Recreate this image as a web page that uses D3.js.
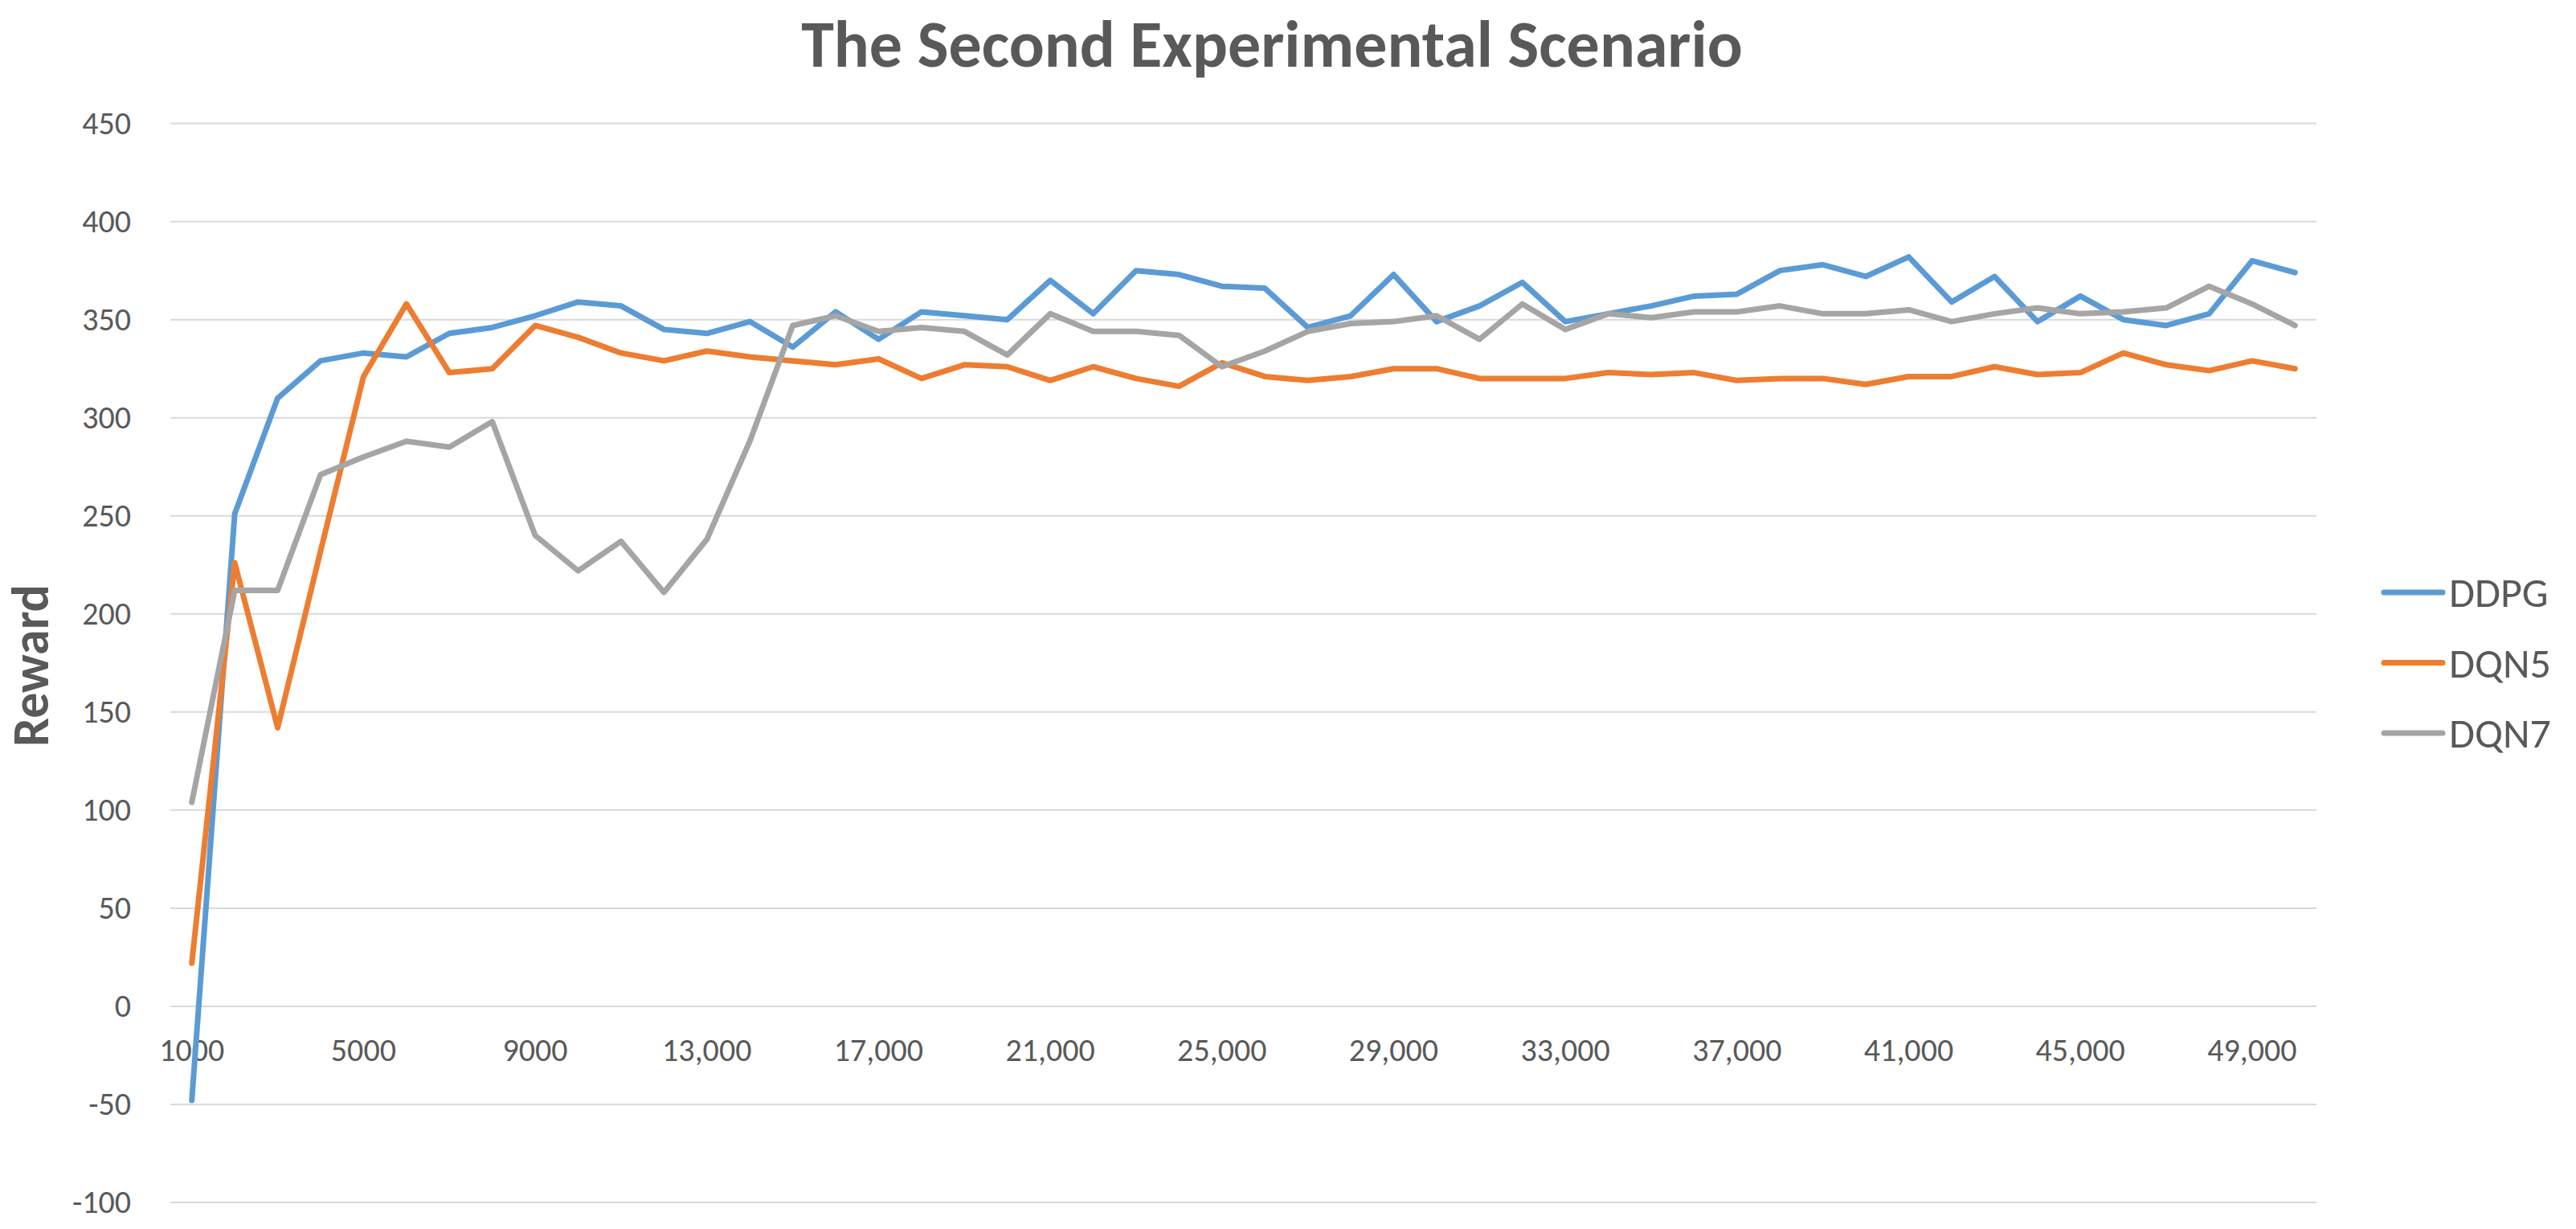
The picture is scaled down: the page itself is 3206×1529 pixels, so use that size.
<!DOCTYPE html>
<html>
<head>
<meta charset="utf-8">
<script src="https://cdn.jsdelivr.net/npm/d3@7"></script>
<style>
body { margin: 0; background: #fff; }
text { font-family: "Carlito", "Lato", "Open Sans", sans-serif; fill: #595959; }
</style>
</head>
<body>
<svg id="chart"></svg>
<script>
// training steps on the category axis
var categories = [1000, 2000, 3000, 4000, 5000, 6000, 7000, 8000, 9000, 10000,
    11000, 12000, 13000, 14000, 15000, 16000, 17000, 18000, 19000, 20000,
    21000, 22000, 23000, 24000, 25000, 26000, 27000, 28000, 29000, 30000,
    31000, 32000, 33000, 34000, 35000, 36000, 37000, 38000, 39000, 40000,
    41000, 42000, 43000, 44000, 45000, 46000, 47000, 48000, 49000, 50000];

var ddpg = [-48, 251, 310, 329, 333, 331, 343, 346, 352, 359,
    357, 345, 343, 349, 336, 354, 340, 354, 352, 350,
    370, 353, 375, 373, 367, 366, 346, 352, 373, 349,
    357, 369, 349, 353, 357, 362, 363, 375, 378, 372,
    382, 359, 372, 349, 362, 350, 347, 353, 380, 374];

var dqn5 = [22, 226, 142, 232, 321, 358, 323, 325, 347, 341,
    333, 329, 334, 331, 329, 327, 330, 320, 327, 326,
    319, 326, 320, 316, 328, 321, 319, 321, 325, 325,
    320, 320, 320, 323, 322, 323, 319, 320, 320, 317,
    321, 321, 326, 322, 323, 333, 327, 324, 329, 325];

var dqn7 = [104, 212, 212, 271, 280, 288, 285, 298, 240, 222,
    237, 211, 238, 288, 347, 352, 344, 346, 344, 332,
    353, 344, 344, 342, 326, 334, 344, 348, 349, 352,
    340, 358, 345, 353, 351, 354, 354, 357, 353, 353,
    355, 349, 353, 356, 353, 354, 356, 367, 358, 347];

var seriesNames = ['DDPG', 'DQN5', 'DQN7'];
var seriesColors = ['#5B9BD5', '#ED7D31', '#A5A5A5'];

var xTickValues = [1000, 5000, 9000, 13000, 17000, 21000, 25000, 29000, 33000, 37000, 41000, 45000, 49000];
var xTickLabels = ['1000', '5000', '9000', '13,000', '17,000', '21,000', '25,000',
    '29,000', '33,000', '37,000', '41,000', '45,000', '49,000'];
var yTicks = [-100, -50, 0, 50, 100, 150, 200, 250, 300, 350, 400, 450];

var W = 3206, H = 1529;
var plotLeft = 212, plotRight = 2883, plotTop = 153.6, plotBottom = 1496;

var svg = d3.select('#chart')
    .attr('width', W)
    .attr('height', H);

var x = d3.scaleBand().domain(categories).range([plotLeft, plotRight]);
var y = d3.scaleLinear().domain([-100, 450]).range([plotBottom, plotTop]);
var cx = function (d) { return x(d) + x.bandwidth() / 2; };

// gridlines
svg.append('g').selectAll('line')
    .data(yTicks)
    .enter().append('line')
    .attr('x1', plotLeft).attr('x2', plotRight)
    .attr('y1', function (d) { return y(d); })
    .attr('y2', function (d) { return y(d); })
    .style('stroke', '#D9D9D9')
    .style('stroke-width', 2);

// y axis labels (plain hyphen for negatives, like the original)
var yAxis = svg.append('g')
    .attr('transform', 'translate(' + plotLeft + ',0)')
    .call(d3.axisLeft(y).tickValues(yTicks).tickSize(0).tickPadding(49)
        .tickFormat(function (d) { return String(d); }));
yAxis.select('.domain').remove();
yAxis.attr('font-family', null);
yAxis.selectAll('text').style('font-size', '40px').style('fill', '#595959');

// x axis labels (axis sits on the zero line)
var xAxis = svg.append('g')
    .attr('transform', 'translate(0,' + y(0) + ')')
    .call(d3.axisBottom(x).tickValues(xTickValues).tickSize(0).tickPadding(40)
        .tickFormat(function (d) { return xTickLabels[xTickValues.indexOf(d)]; }));
xAxis.select('.domain').remove();
xAxis.attr('font-family', null);
xAxis.selectAll('text').style('font-size', '40px').style('fill', '#595959');

// lines
var line = d3.line()
    .x(function (d, i) { return cx(categories[i]); })
    .y(function (d) { return y(d); });

[ddpg, dqn5, dqn7].forEach(function (values, k) {
    svg.append('path')
        .datum(values)
        .attr('d', line)
        .style('fill', 'none')
        .style('stroke', seriesColors[k])
        .style('stroke-width', 7)
        .style('stroke-linejoin', 'round')
        .style('stroke-linecap', 'round');
});

// title
svg.append('text')
    .attr('x', 1583).attr('y', 83)
    .attr('text-anchor', 'middle')
    .style('font-size', '82px')
    .style('font-weight', 'bold')
    .text('The Second Experimental Scenario');

// y axis title
svg.append('text')
    .attr('transform', 'translate(60,828) rotate(-90)')
    .attr('text-anchor', 'middle')
    .style('font-size', '64px')
    .style('font-weight', 'bold')
    .text('Reward');

// legend
var legend = svg.append('g').selectAll('g')
    .data(seriesNames)
    .enter().append('g')
    .attr('transform', function (d, i) { return 'translate(2967,' + (737 + i * 87.5) + ')'; });

legend.append('line')
    .attr('x1', 0).attr('x2', 73)
    .style('stroke', function (d, i) { return seriesColors[i]; })
    .style('stroke-width', 7)
    .style('stroke-linecap', 'round');

legend.append('text')
    .attr('x', 81)
    .attr('dy', '0.35em')
    .style('font-size', '52px')
    .text(function (d) { return d; });
</script>
</body>
</html>
